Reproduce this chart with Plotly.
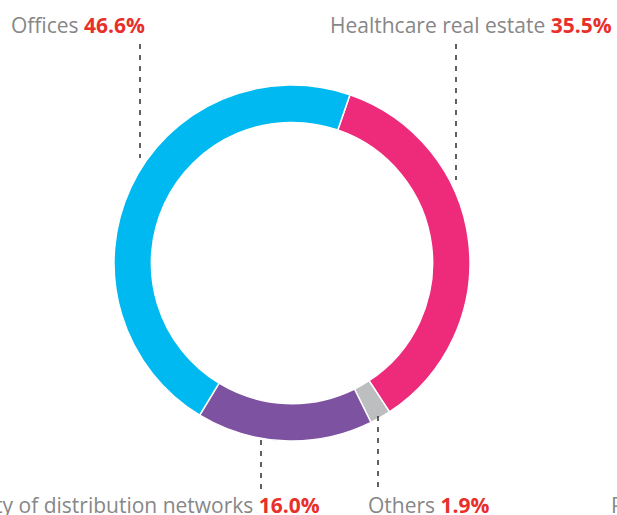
import plotly.graph_objects as go

W, H = 617, 515

categories = ["Healthcare real estate", "Others", "Property of distribution networks", "Offices"]
values = [35.5, 1.9, 16.0, 46.6]
colors = ["#EE2A7B", "#BDBEC0", "#7D52A1", "#00B9F1"]

label_texts = ["Offices", "Healthcare real estate", "Property of distribution networks", "Others", "Property"]
label_pcts = ["46.6%", "35.5%", "16.0%", "1.9%", ""]

def px_x(v):
    return v / W

def px_y(v):
    return 1 - v / H

cx, cy, r = 292, 263, 178

fig = go.Figure(go.Pie(
    labels=categories,
    values=values,
    sort=False,
    direction="clockwise",
    rotation=19,
    hole=0.79,
    marker=dict(colors=colors, line=dict(color="white", width=1.5)),
    textinfo="none",
    hoverinfo="label+percent",
    showlegend=False,
    domain=dict(x=[px_x(cx - r), px_x(cx + r)], y=[px_y(cy + r), px_y(cy - r)]),
))

grey = "#878787"
red = "#E8302A"
font = dict(family="Open Sans, Lato, sans-serif", size=21, color=grey)

def lab(i):
    t = label_texts[i]
    p = label_pcts[i]
    if p:
        return f"{t} <span style='color:{red}'><b>{p}</b></span>"
    return t

ann = [
    dict(x=px_x(9), y=px_y(25), xanchor="left", text=lab(0)),
    dict(x=px_x(614), y=px_y(25), xanchor="right", text=lab(1)),
    dict(x=px_x(322), y=px_y(505), xanchor="right", text=lab(2)),
    dict(x=px_x(366), y=px_y(505), xanchor="left", text=lab(3)),
    dict(x=px_x(609), y=px_y(505), xanchor="left", text=lab(4)),
]
for a in ann:
    a.update(xref="paper", yref="paper", yanchor="middle", showarrow=False, font=font)

lines = [(140, 44, 158), (456, 44, 180), (261, 440, 490), (378, 416, 490)]
shapes = [
    dict(type="line", xref="paper", yref="paper", x0=px_x(x), x1=px_x(x), y0=px_y(y0), y1=px_y(y1),
         line=dict(color="#3A3A3A", width=1.6, dash="5px,6px"))
    for x, y0, y1 in lines
]

fig.update_layout(
    width=W, height=H,
    margin=dict(l=0, r=0, t=0, b=0),
    paper_bgcolor="white",
    plot_bgcolor="white",
    annotations=ann,
    shapes=shapes,
)

fig.write_html(
    "out.html",
    config={"displayModeBar": False},
    post_script="document.body.style.margin='0';document.body.style.overflow='hidden';",
)
